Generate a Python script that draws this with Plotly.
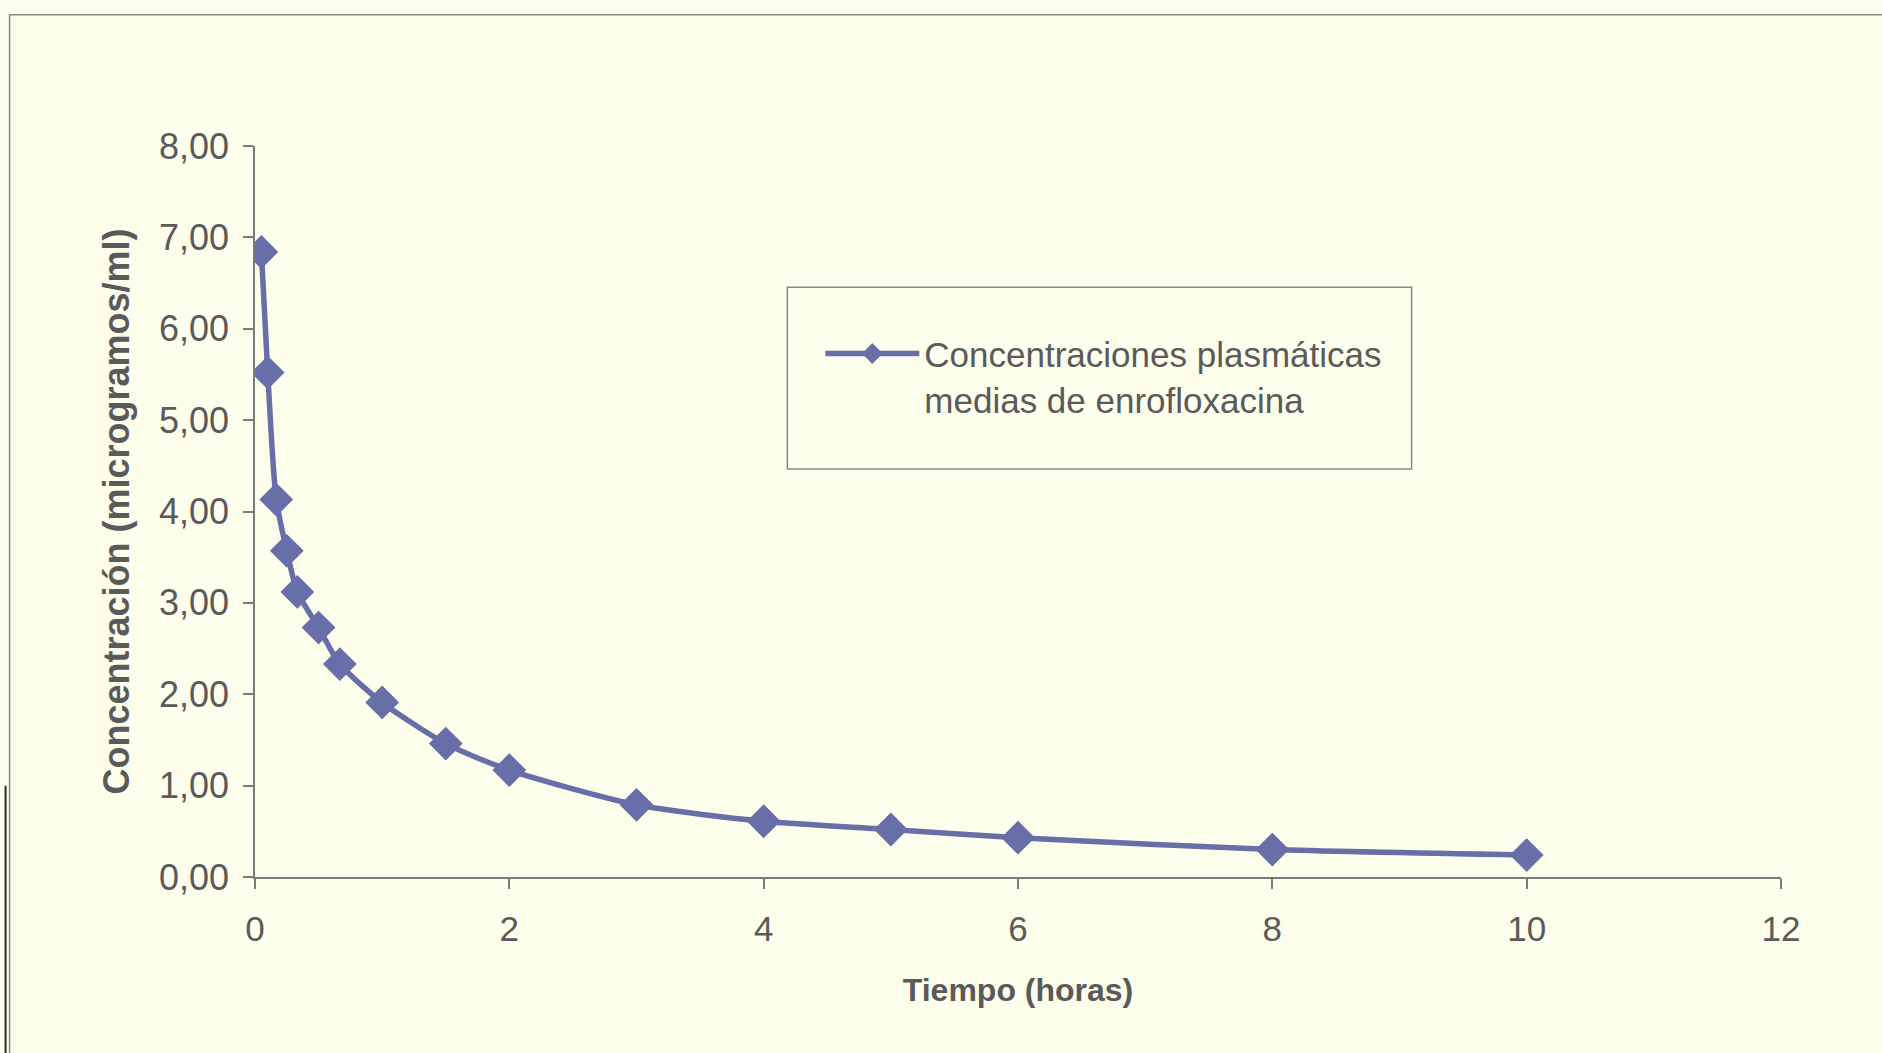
import plotly.graph_objects as go

# Data
tiempo_horas = [0.05, 0.1, 0.167, 0.25, 0.333, 0.5, 0.667, 1, 1.5, 2, 3, 4, 5, 6, 8, 10]
concentracion = [6.84, 5.52, 4.13, 3.57, 3.12, 2.73, 2.33, 1.91, 1.46, 1.17, 0.79, 0.61, 0.52, 0.43, 0.30, 0.24]
serie_nombre = "Concentraciones plasmáticas<br>medias de enrofloxacina"
x_ticks = [0, 2, 4, 6, 8, 10, 12]
y_ticks = [0, 1, 2, 3, 4, 5, 6, 7, 8]

BG = "#FDFEEC"
SERIES = "#686EA8"
TEXT = "#5A5A5A"
AXIS = "#7A7A78"
FONT = "Liberation Sans, Arial, sans-serif"

W, H = 1882, 1053
L, R = 254.5, 1781.0
T, B = 145.5, 877.5
pw, ph = R - L, B - T


def px_to_paper(x, y):
    return (x - L) / pw, (B - y) / ph


fig = go.Figure()
fig.add_trace(go.Scatter(
    x=tiempo_horas, y=concentracion, mode="lines+markers",
    name=serie_nombre,
    line=dict(color=SERIES, width=5.5, shape="spline", smoothing=0.7),
    marker=dict(symbol="diamond", size=26, color=SERIES),
    showlegend=True,
))

bx0, by0 = px_to_paper(9, 14)
bx1, by1 = px_to_paper(1895, 1065)
lx0, ly0 = px_to_paper(787, 287)
lx1, ly1 = px_to_paper(1411.5, 469)
sx0, sy0 = px_to_paper(5, 786)
sx1, sy1 = px_to_paper(5, 1060)

shapes = [
    dict(type="rect", xref="paper", yref="paper", x0=bx0, y0=by0, x1=bx1, y1=by1,
         line=dict(color="#8A8A86", width=1.5), fillcolor="rgba(0,0,0,0)", layer="below"),
    dict(type="rect", xref="paper", yref="paper", x0=lx0, y0=ly0, x1=lx1, y1=ly1,
         line=dict(color="#8A8A86", width=1.5), fillcolor="rgba(0,0,0,0)", layer="below"),
    dict(type="line", xref="paper", yref="paper", x0=sx0, y0=sy0, x1=sx1, y1=sy1,
         line=dict(color="#2A2A2A", width=2)),
]

legx, legy = px_to_paper(820, 324)

fig.update_layout(
    width=W, height=H,
    margin=dict(l=L, r=W - R, t=T, b=H - B, pad=0),
    paper_bgcolor=BG, plot_bgcolor=BG,
    font=dict(family=FONT, color=TEXT, size=35),
    separators=",.",
    showlegend=True,
    legend=dict(x=legx, y=legy, xanchor="left", yanchor="top",
                bgcolor="rgba(0,0,0,0)", borderwidth=0, valign="top",
                font=dict(size=35, color=TEXT, family=FONT),
                itemwidth=94, tracegroupgap=0),
    shapes=shapes,
    xaxis=dict(range=[0, 12], tickvals=x_ticks, ticktext=[str(v) for v in x_ticks],
               showgrid=False, zeroline=False, showline=True, linecolor=AXIS, linewidth=1.5,
               ticks="outside", ticklen=10, tickwidth=1.5, tickcolor=AXIS,
               tickfont=dict(size=35, color=TEXT), ticklabelstandoff=10,
               title=dict(text="<b>Tiempo (horas)</b>", font=dict(size=32, color=TEXT), standoff=32)),
    yaxis=dict(range=[0, 8], tickvals=y_ticks, tickformat=".2f",
               showgrid=False, zeroline=False, showline=True, linecolor=AXIS, linewidth=1.5,
               ticks="outside", ticklen=10, tickwidth=1.5, tickcolor=AXIS,
               tickfont=dict(size=36, color=TEXT), ticklabelstandoff=7,
               title=dict(text="<b>Concentración (microgramos/ml)</b>", font=dict(size=36, color=TEXT), standoff=18)),
)

fig.write_html("out.html")
